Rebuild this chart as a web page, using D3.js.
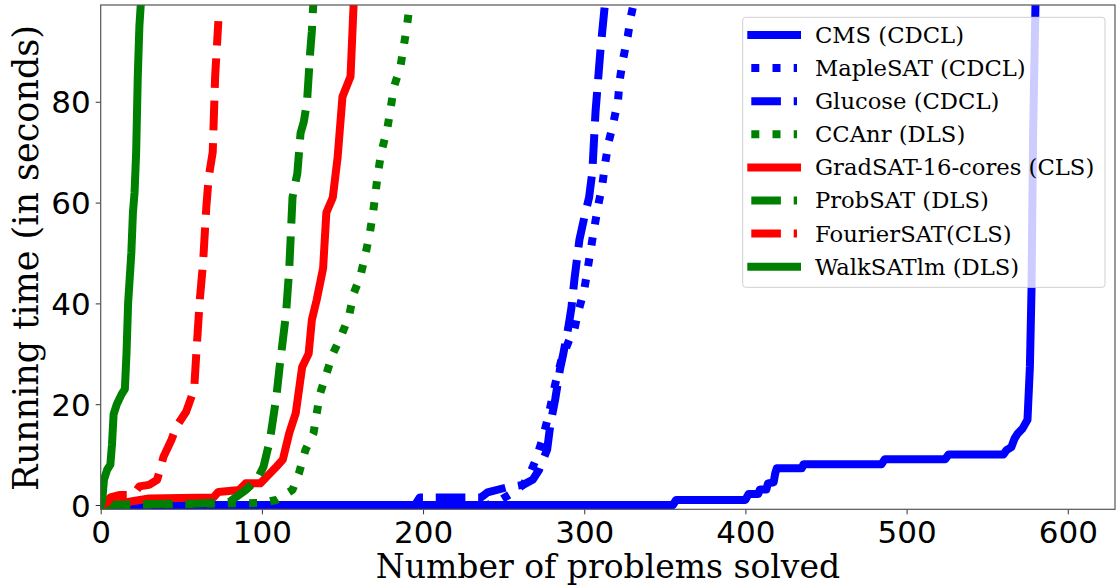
<!DOCTYPE html>
<html>
<head>
<meta charset="utf-8">
<script src="https://cdn.jsdelivr.net/npm/d3@7"></script>
<style>
  body { margin: 0; background: #fff; }
  svg { display: block; }
</style>
</head>
<body>
<div id="chart"></div>
<script>
// solved-count vs. running time, one array of [solved, seconds] per solver
const cms = [[0,0],[100,0],[355,0],[357,1],[400,1],[402,2.2],[408,2.2],[409,3.1],[413,3.1],[414,4.3],[417.5,4.5],[418.5,6.3],[419.5,7.3],[435,7.3],[436,8.1],[484.5,8.1],[486.5,9.1],[524,9.1],[526,10],[560,10],[562,10.9],[565,11.5],[567,13.2],[569,14.2],[572,15.2],[575,16.9],[576.5,27.4],[577.5,42.7],[578.5,73.8],[580,100]];
const maplesat = [[0,0],[240,0],[248,1],[256,2.5],[262,4],[266,6],[270,9],[274,13],[278,18],[282,24],[286,29],[291,33],[294,35],[296,38],[300,42.7],[302,46.6],[304,50.6],[306,54.6],[309,60],[311,63],[313,67.8],[315,71.8],[318,75.7],[321,80.4],[322,84.3],[324,88.3],[327,93],[329,97],[331,100]];
const glucose = [[0,0],[195,0],[198,1.5],[236,1.5],[240,2.5],[252,3.5],[262,4],[268,5],[272,7],[277,11],[279,16],[282,21],[285,27],[287,30],[290,35],[292,39],[294,45],[297,52.6],[300,57],[303,61],[305,66],[306,72],[307,78],[309,86],[310,90],[313,100]];
const ccanr = [[0,0],[50,0.2],[100,0.4],[109,1],[119,3],[123,6.3],[127,10.9],[132,14.2],[136,22],[140,26],[144,30],[149,33.4],[154,37.4],[157,42],[161,45.3],[164,49.3],[167,54],[169,58],[172,65.8],[174,69.8],[178,75],[182,83],[186,87],[190,95],[192,100]];
const gradsat = [[0,0],[15,0.5],[30,1.3],[70,1.5],[73,2.6],[86,3],[90,4.3],[99,4.3],[103,5.6],[109,7.6],[113,9],[117,14.3],[121,18.2],[125,27.4],[129,30],[131,36.7],[134,40.7],[138,47],[140,58],[144,61],[147,69],[150,81],[155,85],[157,100]];
const probsat = [[0,0],[30,0.2],[60,0.3],[80,0.6],[84,1.6],[90,3],[97,5],[101,7.6],[105,12.9],[109,21.5],[111,27.4],[115,38],[117,47],[119,61],[122,65.8],[124,73.8],[126,76],[128,80],[130,90],[131,94],[132,100]];
const fouriersat = [[0,0],[4,0.5],[6,1.5],[12,2],[20,2],[24,3.7],[30,4],[35,5],[39,9.6],[44,13],[47,15.6],[53,18.5],[58,23],[59.5,31],[61.5,40.8],[63.5,48],[65.5,59],[67,65],[69.5,70],[71,85],[73,96]];
const walksatlm = [[0,0],[1,1],[2,5],[4,7],[6,8],[7,12],[8,18],[10,20],[13,22],[15,23],[16,30],[17,40],[19,50],[20,58],[21,62],[22,70],[23,85],[24,95],[25,100]];

const seriesNames = ['CMS (CDCL)', 'MapleSAT (CDCL)', 'Glucose (CDCL)', 'CCAnr (DLS)',
  'GradSAT-16-cores (CLS)', 'ProbSAT (DLS)', 'FourierSAT(CLS)', 'WalkSATlm (DLS)'];
const seriesData = [cms, maplesat, glucose, ccanr, gradsat, probsat, fouriersat, walksatlm];
const seriesColors = ['#0000ff', '#0000ff', '#0000ff', '#008000', '#ff0000', '#008000', '#ff0000', '#008000'];
const seriesStyles = ['solid', 'dotted', 'dashed', 'dotted', 'solid', 'dashed', 'dashed', 'solid'];

const xTicks = [0, 100, 200, 300, 400, 500, 600];
const yTicks = [0, 20, 40, 60, 80];

const W = 1116, H = 587;
const lw = 8;
// matplotlib style dash patterns scaled by the line width
const dashFor = (s) => s === 'dashed' ? (3.7 * lw) + ',' + (1.6 * lw)
  : s === 'dotted' ? (1 * lw) + ',' + (1.65 * lw) : null;

const svg = d3.select('#chart').append('svg').attr('width', W).attr('height', H);

const x = d3.scaleLinear().domain([0, 629.3]).range([100.7, 1115]);
const y = d3.scaleLinear().domain([-0.85, 99.2]).range([509.3, 5]);

svg.append('clipPath').attr('id', 'plotclip')
  .append('rect')
  .attr('x', x.range()[0]).attr('y', y.range()[1])
  .attr('width', x.range()[1] - x.range()[0])
  .attr('height', y.range()[0] - y.range()[1]);

// lines
const line = d3.line().x(d => x(d[0])).y(d => y(d[1]));
const plot = svg.append('g').attr('clip-path', 'url(#plotclip)');
seriesData.forEach((data, i) => {
  plot.append('path')
    .datum(data)
    .attr('d', line)
    .attr('fill', 'none')
    .attr('stroke', seriesColors[i])
    .attr('stroke-width', lw)
    .attr('stroke-linejoin', 'round')
    .attr('stroke-linecap', seriesStyles[i] === 'solid' ? 'square' : 'butt')
    .attr('stroke-dasharray', dashFor(seriesStyles[i]));
});

// axes
const xAxis = svg.append('g')
  .attr('transform', 'translate(0,' + y.range()[0] + ')')
  .call(d3.axisBottom(x).tickValues(xTicks).tickSize(5).tickPadding(7));
const yAxis = svg.append('g')
  .attr('transform', 'translate(' + x.range()[0] + ',0)')
  .call(d3.axisLeft(y).tickValues(yTicks).tickSize(5).tickPadding(5));
[xAxis, yAxis].forEach(a => {
  a.select('.domain').remove();
  a.selectAll('line').attr('stroke', '#333');
  a.selectAll('text')
    .attr('fill', '#000')
    .style('font-family', "'DejaVu Sans', sans-serif")
    .style('font-size', '31px');
});
xAxis.selectAll('text').attr('dy', null).attr('y', 33.5);
yAxis.selectAll('text').attr('dy', '0.36em');

// frame
svg.append('rect')
  .attr('x', x.range()[0]).attr('y', y.range()[1])
  .attr('width', x.range()[1] - x.range()[0])
  .attr('height', y.range()[0] - y.range()[1])
  .attr('fill', 'none')
  .attr('stroke', '#555')
  .attr('stroke-width', 1.2);

// axis titles
svg.append('text')
  .attr('x', 608).attr('y', 578)
  .attr('text-anchor', 'middle')
  .style('font-family', "'DejaVu Serif', serif")
  .style('font-size', '33px')
  .text('Number of problems solved');
svg.append('text')
  .attr('transform', 'translate(38,258)rotate(-90)')
  .attr('text-anchor', 'middle')
  .style('font-family', "'DejaVu Serif', serif")
  .style('font-size', '35px')
  .text('Running time (in seconds)');

// legend
const legend = svg.append('g').attr('transform', 'translate(742.7,17.3)');
legend.append('rect')
  .attr('width', 362.3).attr('height', 270)
  .attr('rx', 3).attr('ry', 3)
  .attr('fill', '#fff').attr('fill-opacity', 0.8)
  .attr('stroke', '#d0d0d0').attr('stroke-width', 1);
seriesNames.forEach((name, i) => {
  const cy = 17.7 + i * 33.1;
  legend.append('line')
    .attr('x1', 8.6).attr('x2', 54.3)
    .attr('y1', cy).attr('y2', cy)
    .attr('stroke', seriesColors[i])
    .attr('stroke-width', lw)
    .attr('stroke-linecap', seriesStyles[i] === 'solid' ? 'square' : 'butt')
    .attr('stroke-dasharray', dashFor(seriesStyles[i]));
  legend.append('text')
    .attr('x', 72.3).attr('y', cy)
    .attr('dy', '0.35em')
    .style('font-family', "'DejaVu Serif', serif")
    .style('font-size', '22.7px')
    .text(name);
});
</script>
</body>
</html>
